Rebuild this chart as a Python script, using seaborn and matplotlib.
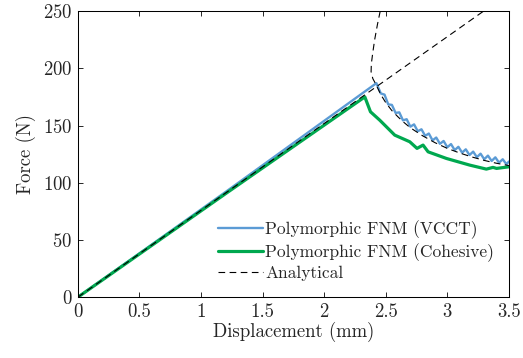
import numpy as np
import seaborn as sns, matplotlib.pyplot as plt

# values
vcct_x = [0, 1.2, 2.424, 2.46, 2.49, 2.52, 2.55, 2.58, 2.61, 2.64, 2.67, 2.70, 2.73,
          2.76, 2.79, 2.82, 2.85, 2.88, 2.91, 2.94, 2.97, 3.00, 3.03, 3.06, 3.09,
          3.12, 3.15, 3.18, 3.21, 3.24, 3.27, 3.30, 3.33, 3.36, 3.39, 3.42, 3.45,
          3.48, 3.50]
vcct_y = [0, 92, 187, 178, 177, 168.5, 168, 161, 161.5, 154.5, 155.5, 149, 151,
          145, 146.7, 141, 143, 137, 139.5, 134, 136.5, 131, 133.8, 128.5, 131.4,
          126.3, 129.2, 124.2, 127.2, 122.3, 125.4, 120.5, 123.7, 119, 122.2, 117.5, 120.5,
          116.2, 118.5]

coh_x = [0, 1.2, 2.33, 2.376, 2.451, 2.573, 2.695, 2.754, 2.803, 2.844, 2.993,
         3.182, 3.317, 3.371, 3.40, 3.5]
coh_y = [0, 90.5, 175, 162, 154.7, 141.6, 135.8, 130, 132.9, 127, 121.2,
         115.4, 111.9, 113.4, 112.5, 113.9]

ana_lin_x = [0, 3.295]
ana_lin_y = [0, 250]

ana_prop_x = [2.455, 2.432, 2.41, 2.395, 2.383, 2.381, 2.395, 2.42, 2.46, 2.50,
              2.55, 2.60, 2.65, 2.70, 2.80, 2.90, 3.00, 3.10, 3.20, 3.30, 3.40, 3.50]
ana_prop_y = [250, 238, 225, 214, 204, 197, 191, 186, 177, 170,
              163, 157.5, 152.5, 148, 141, 135, 130, 126, 122.5, 119.5, 117, 115]

xticks = [0, 0.5, 1, 1.5, 2, 2.5, 3, 3.5]
xtick_labels = ["0", "0.5", "1", "1.5", "2", "2.5", "3", "3.5"]
yticks = [0, 50, 100, 150, 200, 250]

sns.set_style("ticks")
plt.rcParams["font.family"] = ["cmr10", "DejaVu Serif"]
plt.rcParams["axes.formatter.use_mathtext"] = True

fs = 13.5

fig = plt.figure(figsize=(5.23, 3.58), dpi=100)
ax = fig.add_axes([0.149, 0.170, 0.824, 0.799])

blue = "#5B9BD5"
green = "#00A84F"

sns.lineplot(x=vcct_x, y=vcct_y, sort=False, estimator=None, color=blue,
             lw=1.7, label="Polymorphic FNM (VCCT)", ax=ax)
sns.lineplot(x=coh_x, y=coh_y, sort=False, estimator=None, color=green,
             lw=2.3, label="Polymorphic FNM (Cohesive)", ax=ax)
sns.lineplot(x=ana_lin_x, y=ana_lin_y, sort=False, estimator=None, color="black",
             lw=0.8, label="Analytical", ax=ax)
sns.lineplot(x=ana_prop_x, y=ana_prop_y, sort=False, estimator=None, color="black",
             lw=0.8, ax=ax)
for ln in ax.lines[2:]:
    ln.set_linestyle((0, (6, 4)))

ax.set_xlim(0, 3.5)
ax.set_ylim(0, 250)
ax.set_xticks(xticks)
ax.set_xticklabels(xtick_labels)
ax.set_yticks(yticks)
ax.tick_params(direction="in", top=True, right=True, length=3.6, width=0.7,
               labelsize=fs, pad=4)
for s in ax.spines.values():
    s.set_linewidth(0.75)
    s.set_color("black")
ax.set_xlabel("Displacement (mm)", fontsize=fs, labelpad=1)
ax.set_ylabel("Force (N)", fontsize=fs, labelpad=5)

ax.legend(loc="lower left", bbox_to_anchor=(0.318, 0.045), frameon=False,
          handlelength=2.55, handletextpad=0.15, labelspacing=0.22, fontsize=12.5,
          borderpad=0.2, borderaxespad=0)

fig.savefig("out.png", dpi=100)
